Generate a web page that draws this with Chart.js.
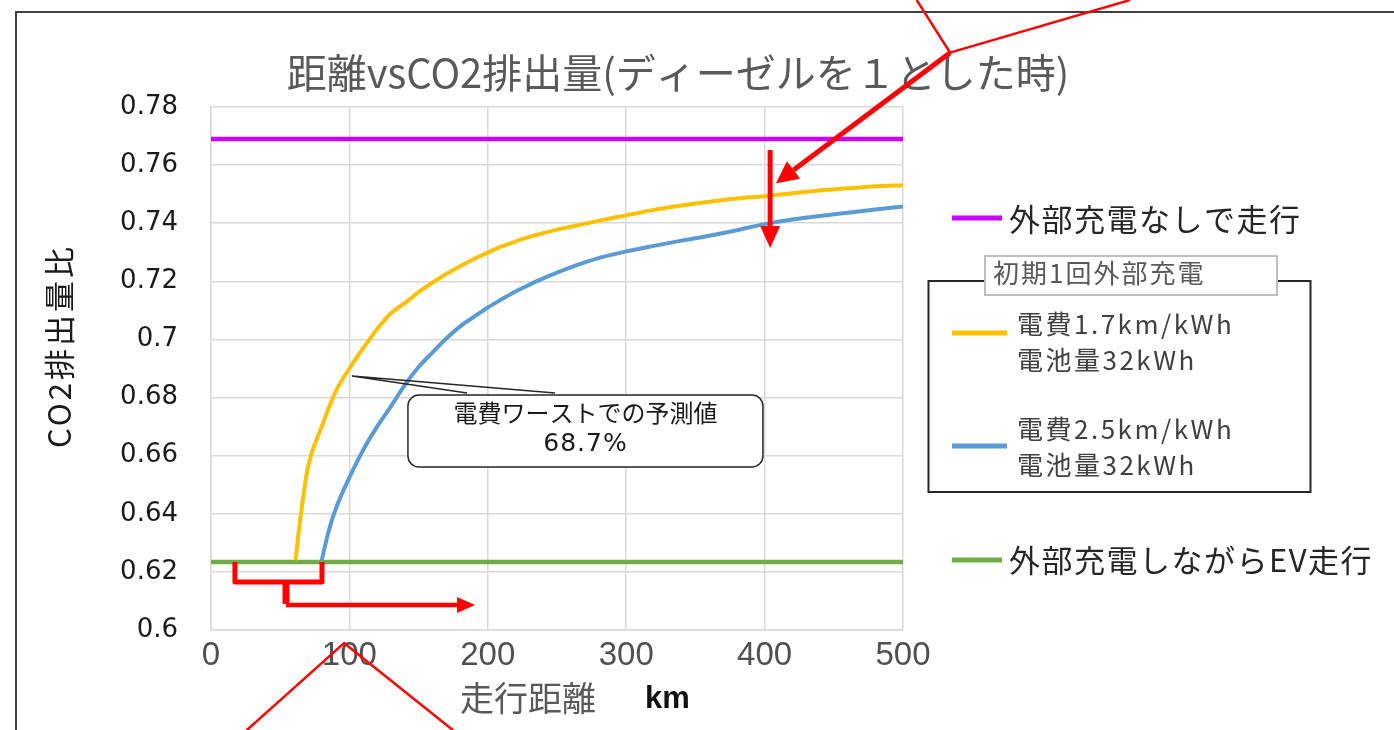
<!DOCTYPE html>
<html>
<head>
<meta charset="utf-8">
<script src="https://cdn.jsdelivr.net/npm/chart.js@4.4.1/dist/chart.umd.min.js"></script>
<style>
  html, body { margin: 0; padding: 0; background: #ffffff; }
  #wrap { width: 1394px; height: 730px; }
</style>
</head>
<body>
<div id="wrap"><canvas id="c" width="1394" height="730"></canvas></div>
<script>
// ---- data ----
const chartTitle = "距離vsCO2排出量(ディーゼルを１とした時)";
const xTitle = "走行距離";
const xUnit = "km";
const yTitle = "CO2排出量比";

const xTicks = [0, 100, 200, 300, 400, 500];
const yTicks = [0.6, 0.62, 0.64, 0.66, 0.68, 0.7, 0.72, 0.74, 0.76, 0.78];

const seriesNames = ["外部充電なしで走行", "電費1.7km/kWh\n電池量32kWh", "電費2.5km/kWh\n電池量32kWh", "外部充電しながらEV走行"];
const groupLabel = "初期1回外部充電";

const distNoCharge = [0, 500];
const ratioNoCharge = [0.769, 0.769];

const distWorst = [61, 65, 70, 80, 90, 100, 110, 120, 130, 140, 150, 160, 170, 180, 190, 200, 210, 220, 230, 240, 250, 260, 270, 280, 290, 300, 320, 340, 360, 380, 400, 420, 440, 460, 480, 500];
const ratioWorst = [0.624, 0.640, 0.656, 0.670, 0.682, 0.690, 0.697, 0.7035, 0.709, 0.7125, 0.7163, 0.7195, 0.7225, 0.7252, 0.7277, 0.7299, 0.732, 0.7337, 0.7353, 0.7366, 0.7378, 0.7388, 0.7398, 0.7408, 0.7418, 0.7427, 0.7446, 0.7461, 0.7474, 0.7485, 0.7493, 0.7503, 0.7513, 0.752, 0.7527, 0.7531];

const distBest = [80, 85, 90, 100, 110, 120, 130, 140, 150, 160, 170, 180, 190, 200, 210, 220, 230, 240, 250, 260, 270, 280, 290, 300, 320, 340, 360, 380, 400, 420, 440, 460, 480, 500];
const ratioBest = [0.624, 0.634, 0.6415, 0.6525, 0.662, 0.670, 0.677, 0.6843, 0.6905, 0.6955, 0.7003, 0.7045, 0.7078, 0.711, 0.7138, 0.7165, 0.7188, 0.721, 0.723, 0.7248, 0.7265, 0.728, 0.7292, 0.7303, 0.7322, 0.734, 0.7357, 0.7376, 0.7397, 0.7413, 0.7425, 0.7436, 0.7447, 0.7458];

const distEV = [0, 500];
const ratioEV = [0.6234, 0.6234];

const calloutText = ["電費ワーストでの予測値", "68.7%"];

// ---- build library structures ----
const toPts = (xs, ys) => xs.map((x, i) => ({ x: x, y: ys[i] }));
const colors = ["#cc00ff", "#ffc000", "#5b9bd5", "#70ad47"];
const JP = '"Noto Sans CJK JP", "Noto Sans", sans-serif';

const datasets = [
  { label: seriesNames[0], data: toPts(distNoCharge, ratioNoCharge), borderColor: colors[0], borderWidth: 4.5 },
  { label: seriesNames[1], data: toPts(distWorst, ratioWorst), borderColor: colors[1], borderWidth: 4, cubicInterpolationMode: 'monotone' },
  { label: seriesNames[2], data: toPts(distBest, ratioBest), borderColor: colors[2], borderWidth: 4, cubicInterpolationMode: 'monotone' },
  { label: seriesNames[3], data: toPts(distEV, ratioEV), borderColor: colors[3], borderWidth: 4.5 }
].map(d => Object.assign({ showLine: true, pointRadius: 0, fill: false }, d));

function arrow(ctx, x1, y1, x2, y2, lw, headLen, headW) {
  const a = Math.atan2(y2 - y1, x2 - x1);
  const bx = x2 - headLen * Math.cos(a), by = y2 - headLen * Math.sin(a);
  ctx.lineWidth = lw;
  ctx.beginPath(); ctx.moveTo(x1, y1); ctx.lineTo(bx, by); ctx.stroke();
  const px = -Math.sin(a) * headW / 2, py = Math.cos(a) * headW / 2;
  ctx.beginPath();
  ctx.moveTo(x2, y2); ctx.lineTo(bx + px, by + py); ctx.lineTo(bx - px, by - py);
  ctx.closePath(); ctx.fill();
}

const overlay = {
  id: 'overlay',
  beforeDraw(chart) {
    const ctx = chart.ctx;
    ctx.save();
    ctx.fillStyle = '#ffffff';
    ctx.fillRect(0, 0, chart.width, chart.height);
    ctx.strokeStyle = '#404040';
    ctx.lineWidth = 2;
    ctx.strokeRect(16, 12, 3000, 3000);
    ctx.restore();
  },
  afterDraw(chart) {
    const ctx = chart.ctx, xs = chart.scales.x, ys = chart.scales.y;
    const X = v => xs.getPixelForValue(v), Y = v => ys.getPixelForValue(v);
    ctx.save();

    // chart title
    ctx.fillStyle = '#595959';
    ctx.font = '40px ' + JP;
    ctx.textAlign = 'center'; ctx.textBaseline = 'middle';
    ctx.fillText(chartTitle, 678, 73);

    // axis titles
    ctx.textAlign = 'left';
    ctx.font = '34px ' + JP;
    ctx.fillStyle = '#595959';
    ctx.fillText(xTitle, 460, 698);
    ctx.font = 'bold 31px "Liberation Sans", sans-serif';
    ctx.fillStyle = '#111111';
    ctx.fillText(xUnit, 645, 699);

    ctx.save();
    ctx.translate(59, 346);
    ctx.rotate(-Math.PI / 2);
    ctx.textAlign = 'center';
    ctx.font = '31px ' + JP;
    ctx.letterSpacing = '3px';
    ctx.fillStyle = '#1a1a1a';
    ctx.fillText(yTitle, 0, 0);
    ctx.restore();

    // legend
    ctx.lineCap = 'butt';
    const legendLine = (c, y, x1, x2, lw) => { ctx.strokeStyle = c; ctx.lineWidth = lw; ctx.beginPath(); ctx.moveTo(x1, y); ctx.lineTo(x2, y); ctx.stroke(); };
    legendLine(colors[0], 218, 952, 1002, 5);
    legendLine(colors[3], 560, 952, 1002, 5);
    ctx.fillStyle = '#262626';
    ctx.font = '31px ' + JP;
    ctx.textBaseline = 'middle';
    ctx.letterSpacing = '1.5px';
    ctx.fillText(seriesNames[0], 1009, 219);
    ctx.fillText(seriesNames[3], 1009, 560);

    ctx.strokeStyle = '#262626'; ctx.lineWidth = 2;
    ctx.strokeRect(928.5, 281, 382, 211);
    ctx.fillStyle = '#ffffff'; ctx.strokeStyle = '#bfbfbf'; ctx.lineWidth = 2;
    ctx.fillRect(985, 256, 292, 39); ctx.strokeRect(985, 256, 292, 39);
    ctx.fillStyle = '#595959';
    ctx.font = '26px ' + JP;
    ctx.letterSpacing = '2px';
    ctx.fillText(groupLabel, 993, 273);

    legendLine(colors[1], 333, 952, 1007, 5);
    legendLine(colors[2], 446, 952, 1007, 5);
    ctx.fillStyle = '#404040';
    ctx.font = '26px ' + JP;
    ctx.letterSpacing = '2.5px';
    const l1 = seriesNames[1].split('\n'), l2 = seriesNames[2].split('\n');
    ctx.fillText(l1[0], 1017, 324); ctx.fillText(l1[1], 1017, 360);
    ctx.fillText(l2[0], 1017, 429); ctx.fillText(l2[1], 1017, 465);
    ctx.letterSpacing = '0px';

    // callout with leader
    ctx.strokeStyle = '#262626'; ctx.lineWidth = 1.5;
    ctx.beginPath();
    ctx.moveTo(X(101.9), Y(0.6874)); ctx.lineTo(X(185), Y(0.6816));
    ctx.moveTo(X(101.9), Y(0.6874)); ctx.lineTo(X(248.6), Y(0.6816));
    ctx.stroke();
    const bx1 = X(142.3), bx2 = X(398.8), by1 = Y(0.6809), by2 = Y(0.6561);
    ctx.fillStyle = '#ffffff';
    ctx.beginPath();
    ctx.roundRect(bx1, by1, bx2 - bx1, by2 - by1, 11);
    ctx.fill(); ctx.stroke();
    ctx.fillStyle = '#1a1a1a';
    ctx.textAlign = 'center';
    ctx.font = '24px ' + JP;
    ctx.fillText(calloutText[0], (bx1 + bx2) / 2, Y(0.6747));
    ctx.font = '25px "DejaVu Sans", sans-serif';
    ctx.letterSpacing = '1px';
    ctx.fillText(calloutText[1], (bx1 + bx2) / 2, Y(0.6637));
    ctx.letterSpacing = '0px';

    // red annotations
    ctx.strokeStyle = '#ff0000'; ctx.fillStyle = '#ff0000';
    ctx.lineJoin = 'round';
    ctx.lineWidth = 5;
    ctx.beginPath();
    ctx.moveTo(X(17.3), Y(0.6234)); ctx.lineTo(X(17.3), Y(0.6165));
    ctx.lineTo(X(80.2), Y(0.6165)); ctx.lineTo(X(80.2), Y(0.6234));
    ctx.stroke();
    ctx.lineWidth = 7;
    ctx.beginPath(); ctx.moveTo(X(54.2), Y(0.6165)); ctx.lineTo(X(54.2), Y(0.6090)); ctx.stroke();
    arrow(ctx, X(54.2), Y(0.6086), X(190.8), Y(0.6086), 4.5, 18, 16);
    ctx.lineWidth = 2.5;
    ctx.beginPath();
    ctx.moveTo(X(25.8), Y(0.5655)); ctx.lineTo(X(96.1), Y(0.5955)); ctx.lineTo(X(174.9), Y(0.5655));
    ctx.stroke();
    ctx.beginPath();
    ctx.moveTo(X(509.9), Y(0.8168)); ctx.lineTo(X(534), Y(0.7987)); ctx.lineTo(X(664), Y(0.8168));
    ctx.stroke();
    arrow(ctx, X(534), Y(0.7987), X(408.2), Y(0.7538), 5, 22, 22);
    arrow(ctx, X(404), Y(0.7652), X(404), Y(0.7315), 5, 22, 20);

    ctx.restore();
  }
};

new Chart(document.getElementById('c'), {
  type: 'scatter',
  data: { datasets: datasets },
  options: {
    responsive: false,
    animation: false,
    layout: { padding: { left: 0, top: 107, right: 491, bottom: 0 } },
    plugins: { legend: { display: false }, tooltip: { enabled: false }, title: { display: false } },
    elements: { line: { tension: 0 } },
    scales: {
      x: {
        type: 'linear', min: 0, max: 500,
        afterBuildTicks: s => { s.ticks = xTicks.map(v => ({ value: v })); },
        afterFit: s => { s.height = 100; },
        grid: { color: '#d9d9d9', lineWidth: 1.5, drawTicks: false },
        border: { color: '#d9d9d9', width: 1.5 },
        ticks: { padding: 6, color: '#505050', font: { family: '"Liberation Sans Narrow", "Liberation Sans", sans-serif', size: 33 }, maxRotation: 0, callback: v => String(v) }
      },
      y: {
        type: 'linear', min: 0.6, max: 0.78,
        afterBuildTicks: s => { s.ticks = yTicks.map(v => ({ value: v })); },
        afterFit: s => { s.width = 211; },
        grid: { color: '#d9d9d9', lineWidth: 1.5, drawTicks: false },
        border: { color: '#d9d9d9', width: 1.5 },
        ticks: { padding: 33, color: '#1a1a1a', font: { family: '"DejaVu Sans", sans-serif', size: 26 }, callback: v => String(Number(v.toFixed(2))) }
      }
    }
  },
  plugins: [overlay]
});
</script>
</body>
</html>
